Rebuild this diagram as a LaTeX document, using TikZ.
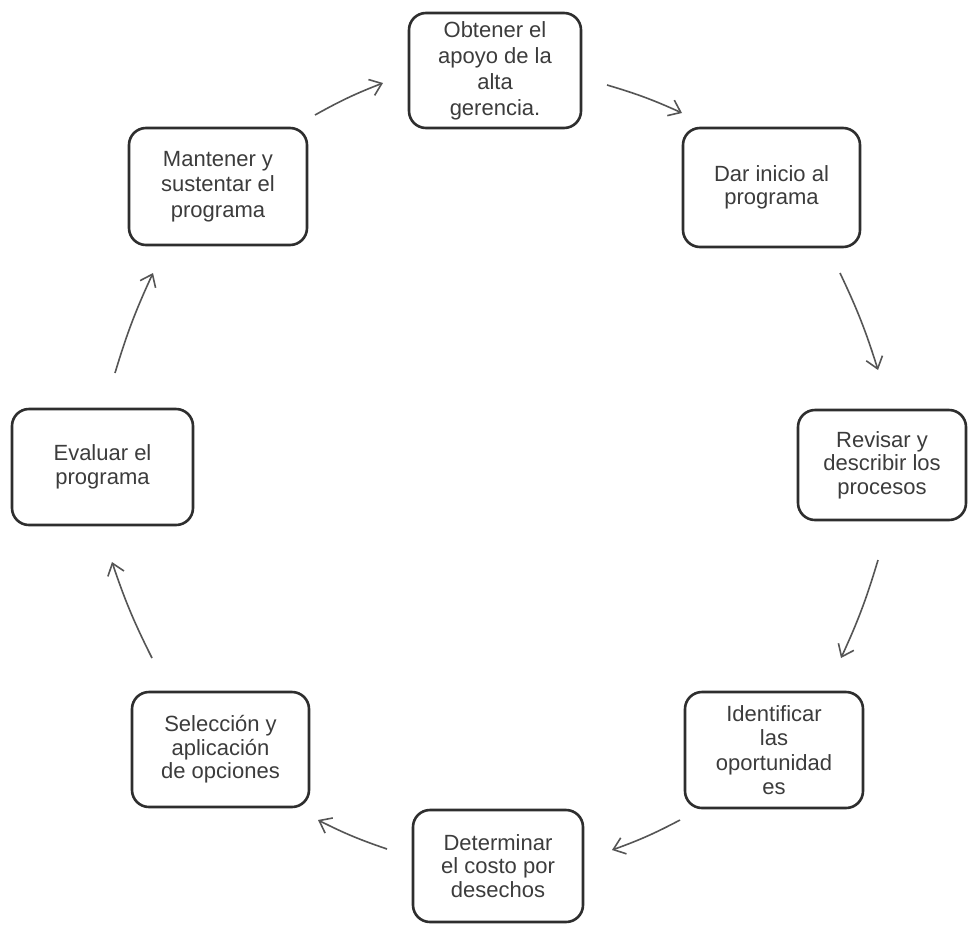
\documentclass[tikz,border=0pt]{standalone}
\usepackage{fontspec}
\setmainfont{Liberation Sans}
\usetikzlibrary{arrows.meta}
\definecolor{boxline}{HTML}{2E2E2E}
\definecolor{txt}{HTML}{3C3C3C}
\definecolor{arr}{HTML}{555555}
\begin{document}
\begin{tikzpicture}[x=1pt,y=-1pt,
  stagebox/.style={draw=boxline, line width=2.6pt, rounded corners=17pt, align=center,
    inner sep=0pt, text=txt, font=\fontsize{22}{23.5}\selectfont},
  flow/.style={draw=arr, line width=1.6pt,
    -{Straight Barb[length=11pt,width=17pt,line width=1.6pt]}, bend left=4}]
\useasboundingbox (0,0) rectangle (968,924);
\fill[white] (0,0) rectangle (968,924);

\node[stagebox, minimum width=172pt, minimum height=115pt,
  font=\fontsize{22}{26}\selectfont] (n1) at (495,70.5)
  {Obtener el\\apoyo de la\\alta\\gerencia.};
\node[stagebox, minimum width=177pt, minimum height=119pt] (n2) at (771.5,187.5)
  {Dar inicio al\\programa};
\node[stagebox, minimum width=168pt, minimum height=110pt] (n3) at (882,465)
  {Revisar y\\describir los\\procesos};
\node[stagebox, minimum width=178pt, minimum height=116pt,
  font=\fontsize{22}{24.5}\selectfont] (n4) at (774,750)
  {Identificar\\las\\oportunidad\\es};
\node[stagebox, minimum width=170pt, minimum height=112pt] (n5) at (498,866)
  {Determinar\\el costo por\\desechos};
\node[stagebox, minimum width=177pt, minimum height=115pt] (n6) at (220.5,749.5)
  {Selección y\\aplicación\\de opciones};
\node[stagebox, minimum width=181pt, minimum height=116pt] (n7) at (102.5,467)
  {Evaluar el\\programa};
\node[stagebox, minimum width=178pt, minimum height=117pt,
  font=\fontsize{22}{25.5}\selectfont] (n8) at (218,186.5)
  {Mantener y\\sustentar el\\programa};

\coordinate (a1s) at (607,85);   \coordinate (a1e) at (682,113);
\coordinate (a2s) at (840,273);  \coordinate (a2e) at (878,370);
\coordinate (a3s) at (878,560);  \coordinate (a3e) at (841,658);
\coordinate (a4s) at (680,820);  \coordinate (a4e) at (612,850);
\coordinate (a5s) at (387,849);  \coordinate (a5e) at (318,820);
\coordinate (a6s) at (152,658);  \coordinate (a6e) at (112,562);
\coordinate (a7s) at (115,373);  \coordinate (a7e) at (153,273);
\coordinate (a8s) at (315,115);  \coordinate (a8e) at (383,83);

\draw[flow] (a1s) to (a1e);
\draw[flow] (a2s) to (a2e);
\draw[flow] (a3s) to (a3e);
\draw[flow] (a4s) to (a4e);
\draw[flow] (a5s) to (a5e);
\draw[flow] (a6s) to (a6e);
\draw[flow] (a7s) to (a7e);
\draw[flow] (a8s) to (a8e);
\end{tikzpicture}
\end{document}
